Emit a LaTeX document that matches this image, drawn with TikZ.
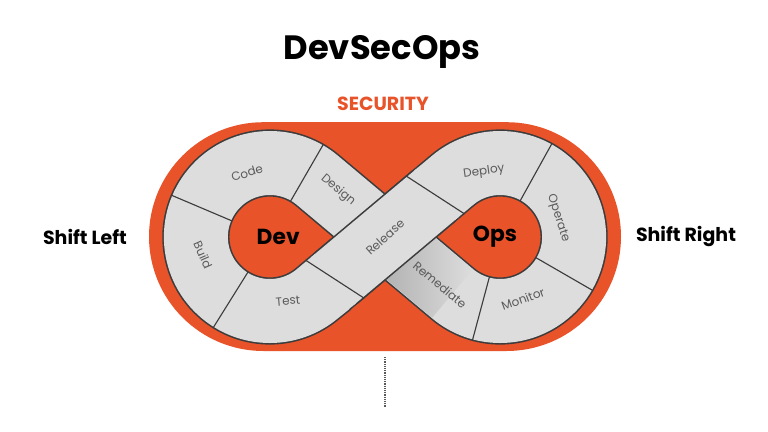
\documentclass[tikz,border=0pt]{standalone}
\usepackage{fontspec}
\setmainfont{Poppins}

\definecolor{secorange}{HTML}{E8532A}
\definecolor{bandgray}{HTML}{DDDDDD}
\definecolor{shadegray}{HTML}{B0B0B0}
\definecolor{edgegray}{HTML}{3C3C3C}
\definecolor{labelgray}{HTML}{5A5A5A}

\tikzset{
	bandedge/.style={line width=1.68cm, edgegray},
	bandfill/.style={line width=1.6cm, bandgray},
	divider/.style={line width=0.8pt, edgegray},
	seglabel/.style={labelgray, font=\fontsize{8.5}{10}\selectfont},
	looplabel/.style={font=\fontsize{15.5}{18}\selectfont\bfseries},
	sidelabel/.style={font=\fontsize{13.5}{16}\selectfont\bfseries},
}

\begin{document}
\begin{tikzpicture}
%	helplines
%	\draw[thin] (-9,-4) grid (9,5);
	\useasboundingbox (-9.625,-4.875) rectangle (9.575,5.925);

	% security capsule
	\fill[secorange, rounded corners=2.86cm] (-5.9,-2.85) rectangle (5.9,2.87);

	\coordinate (L) at (-2.878,0);
	\coordinate (R) at (2.878,0);

	% the loop band, edge first
	\draw[bandedge] (-1.689,-1.417) -- (1.689,1.417) arc[start angle=130, end angle=-130, radius=1.85] -- (-1.689,1.417) arc[start angle=50, end angle=310, radius=1.85] -- cycle;
	\draw[bandfill] (-1.689,-1.417) -- (1.689,1.417) arc[start angle=130, end angle=-130, radius=1.85] -- (-1.689,1.417) arc[start angle=50, end angle=310, radius=1.85] -- cycle;

	% shadow where the band goes under
	\begin{scope}[rotate=-40]
		\shade[left color=shadegray, right color=bandgray] (0.5,-0.79) rectangle (2.2,0.79);
	\end{scope}

	% release passes over
	\draw[bandedge] (220:1.6) -- (40:1.6);
	\draw[bandfill] (220:1.75) -- (40:1.75);

	% dividers
	\foreach \a in {60,157,238}
		\draw[divider] ([shift={(\a:1.03)}]L) -- ([shift={(\a:2.67)}]L);
	\foreach \a in {61,-30,255}
		\draw[divider] ([shift={(\a:1.03)}]R) -- ([shift={(\a:2.67)}]R);
	\draw[divider] (-1.992,-0.575) -- (-0.518,-1.532);
	\draw[divider] (1.992,0.575) -- (0.518,1.532);

	\node (code)[seglabel, rotate=17] at (-3.45,1.6) {Code};
	\node (design)[seglabel, rotate=-40] at (-1.175,1.175) {Design};
	\node (build)[seglabel, rotate=-66] at (-4.55,-0.45) {Build};
	\node (test)[seglabel, rotate=5] at (-2.425,-1.6) {Test};
	\node (release)[seglabel, rotate=42] at (0,0) {Release};
	\node (deploy)[seglabel, rotate=8] at (2.475,1.625) {Deploy};
	\node (operate)[seglabel, rotate=-72] at (4.325,0.475) {Operate};
	\node (monitor)[seglabel, rotate=20] at (3.45,-1.55) {Monitor};
	\node (remediate)[seglabel, rotate=-40] at (1.375,-1.2) {Remediate};

	\node (dev)[looplabel] at (-2.67,0) {Dev};
	\node (ops)[looplabel] at (2.75,0) {Ops};

	\node (title)[font=\fontsize{24}{28}\selectfont\bfseries] at (-0.075,4.625) {DevSecOps};
	\node (security)[secorange, font=\fontsize{13.5}{16}\selectfont\bfseries] at (-0.05,3.325) {SECURITY};
	\node (shiftleft)[sidelabel] at (-7.5,0) {Shift Left};
	\node (shiftright)[sidelabel] at (7.525,0) {Shift Right};

	\coordinate (stemtop) at (0,-3.0);
	\coordinate (stemend) at (0,-4.275);
	\draw[black!65, line width=1pt, dash pattern=on 0.7pt off 0.6pt] (stemtop) -- (stemend);

\end{tikzpicture}
\end{document}
